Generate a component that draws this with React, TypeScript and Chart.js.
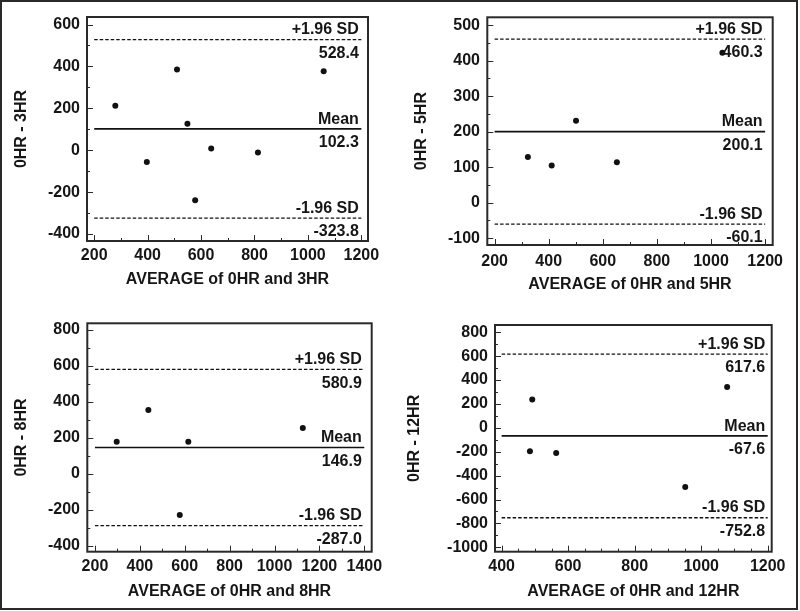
import React, { useEffect, useRef } from 'react';
import { Chart, registerables } from 'chart.js';

Chart.register(...registerables);

// ---------- Data ----------
// Panel 1: 0HR vs 3HR
const p1Avg = [279, 510, 1059, 549, 638, 813, 397, 578];
const p1Diff = [213, 385, 377, 127, 8, -11, -56, -239];
const p1Limits = [528.4, 102.3, -323.8]; // +1.96 SD, Mean, -1.96 SD
const p1XTicks = [200, 400, 600, 800, 1000, 1200];
const p1YTicks = [-400, -200, 0, 200, 400, 600];

// Panel 2: 0HR vs 5HR
const p2Avg = [323, 411, 501, 652, 1042];
const p2Diff = [129, 105, 231, 114, 422];
const p2Limits = [460.3, 200.1, -60.1];
const p2XTicks = [200, 400, 600, 800, 1000, 1200];
const p2YTicks = [-100, 0, 100, 200, 300, 400, 500];

// Panel 3: 0HR vs 8HR
const p3Avg = [297, 438, 616, 1126, 578];
const p3Diff = [179, 355, 179, 255, -228];
const p3Limits = [580.9, 146.9, -287.0];
const p3XTicks = [200, 400, 600, 800, 1000, 1200, 1400];
const p3YTicks = [-400, -200, 0, 200, 400, 600, 800];

// Panel 4: 0HR vs 12HR
const p4Avg = [492, 485, 564, 952, 1078];
const p4Diff = [238, -197, -211, -496, 342];
const p4Limits = [617.6, -67.6, -752.8];
const p4XTicks = [400, 600, 800, 1000, 1200];
const p4YTicks = [-1000, -800, -600, -400, -200, 0, 200, 400, 600, 800];

const limitNames = ['+1.96 SD', 'Mean', '-1.96 SD'];

const FONT = '"Liberation Sans", Arial, sans-serif';
const INK = '#161616';

type Panel = {
  avg: number[]; diff: number[]; limits: number[];
  xTicks: number[]; yTicks: number[];
  xTitle: string; yTitle: string;
  xMin: number; xMax: number; yMin: number; yMax: number;
  xMinor: number; yMinor: number;
  cx: number; cy: number; W: number; H: number;
  L: number; T: number; R: number; B: number;
  yTickPad: number; xTickPad: number; yTitlePad: number; xTitlePad: number;
};

const panels: Panel[] = [
  {
    avg: p1Avg, diff: p1Diff, limits: p1Limits, xTicks: p1XTicks, yTicks: p1YTicks,
    xTitle: 'AVERAGE of 0HR and 3HR', yTitle: '0HR - 3HR',
    xMin: 173, xMax: 1225, yMin: -433, yMax: 636, xMinor: 100, yMinor: 100,
    cx: 0, cy: 0, W: 400, H: 305, L: 87, T: 17, R: 368, B: 241,
    yTickPad: 7, xTickPad: 4.5, yTitlePad: 12, xTitlePad: 16,
  },
  {
    avg: p2Avg, diff: p2Diff, limits: p2Limits, xTicks: p2XTicks, yTicks: p2YTicks,
    xTitle: 'AVERAGE of 0HR and 5HR', yTitle: '0HR - 5HR',
    xMin: 173, xMax: 1228, yMin: -119, yMax: 522, xMinor: 100, yMinor: 50,
    cx: 400, cy: 0, W: 400, H: 305, L: 87.3, T: 17.3, R: 372.7, B: 245,
    yTickPad: 7.3, xTickPad: 7, yTitlePad: 12, xTitlePad: 10.5,
  },
  {
    avg: p3Avg, diff: p3Diff, limits: p3Limits, xTicks: p3XTicks, yTicks: p3YTicks,
    xTitle: 'AVERAGE of 0HR and 8HR', yTitle: '0HR - 8HR',
    xMin: 166, xMax: 1433, yMin: -432, yMax: 837, xMinor: 100, yMinor: 100,
    cx: 0, cy: 305, W: 400, H: 306, L: 87.3, T: 18.3, R: 371.7, B: 246.7,
    yTickPad: 7.3, xTickPad: 5.4, yTitlePad: 12, xTitlePad: 9.7,
  },
  {
    avg: p4Avg, diff: p4Diff, limits: p4Limits, xTicks: p4XTicks, yTicks: p4YTicks,
    xTitle: 'AVERAGE of 0HR and 12HR', yTitle: '0HR - 12HR',
    xMin: 380, xMax: 1212, yMin: -1037, yMax: 861, xMinor: 50, yMinor: 100,
    cx: 400, cy: 305, W: 400, H: 306, L: 95, T: 20, R: 371.7, B: 246.7,
    yTickPad: 7, xTickPad: 5.4, yTitlePad: 5.4, xTitlePad: 9.7,
  },
];

const blandPlugin = {
  id: 'bland',
  afterDraw(chart: any, _args: any, opts: any) {
    const p: Panel = opts.panel;
    const { ctx, chartArea: a } = chart;
    const xs = chart.scales.x;
    const ys = chart.scales.y;
    ctx.save();
    // frame
    ctx.strokeStyle = '#2a2a2a';
    ctx.lineWidth = 2;
    ctx.strokeRect(a.left, a.top, a.right - a.left, a.bottom - a.top);
    // inward ticks (major + minor)
    ctx.lineWidth = 1;
    ctx.beginPath();
    const x0 = p.xTicks[0], x1 = p.xTicks[p.xTicks.length - 1];
    for (let v = x0; v <= x1 + 1e-6; v += p.xMinor) {
      const px = Math.round(xs.getPixelForValue(v)) + 0.5;
      const len = p.xTicks.includes(v) ? 6 : 3;
      ctx.moveTo(px, a.bottom);
      ctx.lineTo(px, a.bottom - len);
    }
    const y0 = p.yTicks[0], y1 = p.yTicks[p.yTicks.length - 1];
    for (let v = y0; v <= y1 + 1e-6; v += p.yMinor) {
      const py = Math.round(ys.getPixelForValue(v)) + 0.5;
      const len = p.yTicks.includes(v) ? 6 : 3;
      ctx.moveTo(a.left, py);
      ctx.lineTo(a.left + len, py);
    }
    ctx.stroke();
    // limit labels
    ctx.fillStyle = INK;
    ctx.font = `bold 16px ${FONT}`;
    ctx.textAlign = 'right';
    ctx.textBaseline = 'alphabetic';
    const xr = xs.getPixelForValue(x1) - 2.5;
    p.limits.forEach((val, i) => {
      const py = ys.getPixelForValue(val);
      ctx.fillText(limitNames[i], xr, py - 5.3);
      ctx.fillText(val.toFixed(1), xr, py + 18.2);
    });
    ctx.restore();
  },
};

function PanelChart({ p }: { p: Panel }) {
  const ref = useRef<HTMLCanvasElement | null>(null);
  useEffect(() => {
    if (!ref.current) return;
    const xStart = p.xTicks[0];
    const xEnd = p.xTicks[p.xTicks.length - 1];
    const lineDs = (val: number, dashed: boolean) => ({
      type: 'line' as const,
      data: [{ x: xStart, y: val }, { x: xEnd, y: val }],
      borderColor: '#111',
      borderWidth: dashed ? 1.3 : 1.7,
      borderDash: dashed ? [3.5, 2] : [],
      pointRadius: 0,
      fill: false,
    });
    const tickFont = { family: FONT, size: 16, weight: 'bold' as const };
    const chart = new Chart(ref.current, {
      type: 'scatter',
      data: {
        datasets: [
          {
            data: p.avg.map((v, i) => ({ x: v, y: p.diff[i] })),
            backgroundColor: '#111',
            borderColor: '#111',
            pointRadius: 3,
            pointBorderWidth: 0,
          },
          lineDs(p.limits[0], true),
          lineDs(p.limits[1], false),
          lineDs(p.limits[2], true),
        ] as any,
      },
      options: {
        animation: false,
        responsive: false,
        devicePixelRatio: 1,
        layout: { padding: { left: 0, top: p.T, right: p.W - p.R, bottom: 0 } },
        plugins: {
          legend: { display: false },
          tooltip: { enabled: false },
          bland: { panel: p },
        } as any,
        scales: {
          x: {
            type: 'linear',
            min: p.xMin,
            max: p.xMax,
            afterBuildTicks: (s: any) => { s.ticks = p.xTicks.map((v) => ({ value: v })); },
            afterFit: (s: any) => { s.height = p.H - p.B; },
            grid: { display: false, drawTicks: false },
            border: { display: false },
            ticks: {
              autoSkip: false, maxRotation: 0, minRotation: 0, padding: p.xTickPad,
              color: INK, font: tickFont, callback: (v: any) => String(v),
            },
            title: {
              display: true, text: p.xTitle, color: INK, font: tickFont,
              padding: { top: 0, bottom: p.xTitlePad },
            },
          },
          y: {
            type: 'linear',
            min: p.yMin,
            max: p.yMax,
            afterBuildTicks: (s: any) => { s.ticks = p.yTicks.map((v) => ({ value: v })); },
            afterFit: (s: any) => { s.width = p.L; },
            grid: { display: false, drawTicks: false },
            border: { display: false },
            ticks: {
              autoSkip: false, padding: p.yTickPad,
              color: INK, font: tickFont, callback: (v: any) => String(v),
            },
            title: {
              display: true, text: p.yTitle, color: INK, font: tickFont,
              padding: { top: p.yTitlePad, bottom: 0 },
            },
          },
        },
      } as any,
      plugins: [blandPlugin],
    });
    return () => chart.destroy();
  }, [p]);
  return (
    <canvas
      ref={ref}
      width={p.W}
      height={p.H}
      style={{ position: 'absolute', left: p.cx, top: p.cy, width: p.W, height: p.H }}
    />
  );
}

export default function App() {
  return (
    <div style={{ position: 'absolute', left: 0, top: 0, width: 800, height: 611, background: '#fff', overflow: 'hidden' }}>
      {panels.map((p, i) => <PanelChart key={i} p={p} />)}
      <div
        style={{
          position: 'absolute', left: 0, top: 0, width: 798, height: 610,
          border: '2px solid #2a2a2a', boxSizing: 'border-box', pointerEvents: 'none',
        }}
      />
    </div>
  );
}
